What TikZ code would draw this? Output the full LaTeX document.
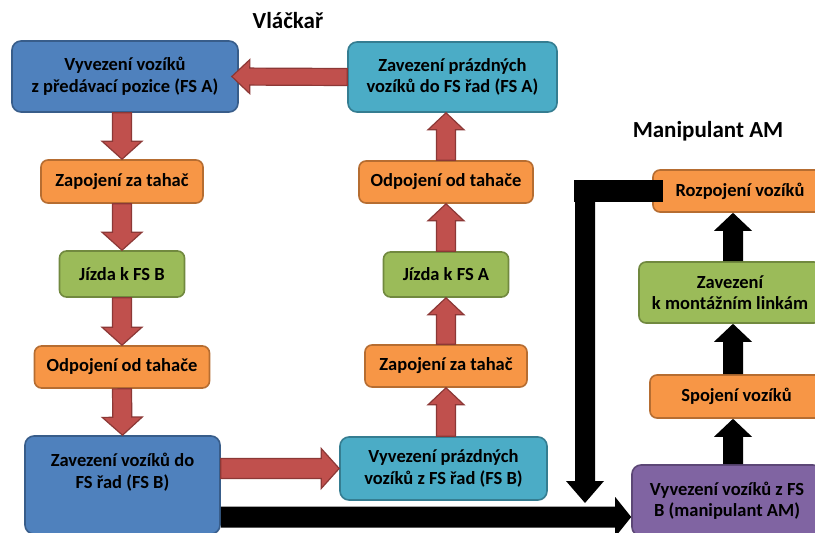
\documentclass[tikz,border=0pt]{standalone}
\usepackage{fontspec}
\setmainfont{Carlito}
\usetikzlibrary{calc}

% Office-style palette
\definecolor{boxblue}{HTML}{4F81BD}
\definecolor{boxblueline}{HTML}{385D8A}
\definecolor{boxteal}{HTML}{4BACC6}
\definecolor{boxtealline}{HTML}{357D91}
\definecolor{boxorange}{HTML}{F79646}
\definecolor{boxorangeline}{HTML}{B66D31}
\definecolor{boxgreen}{HTML}{9BBB59}
\definecolor{boxgreenline}{HTML}{71893F}
\definecolor{boxpurple}{HTML}{8064A2}
\definecolor{boxpurpleline}{HTML}{5C4776}
\definecolor{arrowred}{HTML}{C0504D}
\definecolor{arrowredline}{HTML}{8C3836}

% Block arrow between two points:
% #1 style, #2 start, #3 tip, #4 half shaft width, #5 half head width, #6 head length (all in pt)
\newcommand\blockarrow[6]{%
  \path (#2) coordinate (ba-s) (#3) coordinate (ba-e);
  \pgfpointdiff{\pgfpointanchor{ba-s}{center}}{\pgfpointanchor{ba-e}{center}}%
  \pgfgetlastxy{\badx}{\bady}%
  \pgfmathsetmacro\balen{veclen(\badx,\bady)}%
  \pgfmathsetmacro\baang{atan2(\bady,\badx)}%
  \pgfmathsetmacro\babase{\balen-#6}%
  \begin{scope}[shift={(ba-s)},rotate=\baang]
    \draw[#1] (0pt,-#4pt) -- (\babase pt,-#4pt) -- (\babase pt,-#5pt)
      -- (\balen pt,0pt) -- (\babase pt,#5pt) -- (\babase pt,#4pt)
      -- (0pt,#4pt) -- cycle;
  \end{scope}}

\begin{document}
\begin{tikzpicture}[x=1pt,y=-1pt,
  procbox/.style={rounded corners=9pt, line width=1.6pt, align=center,
    inner sep=0pt, text=black, font=\fontsize{18.5}{21.5}\selectfont\bfseries},
  bluebox/.style={procbox, fill=boxblue, draw=boxblueline},
  tealbox/.style={procbox, fill=boxteal, draw=boxtealline},
  orangebox/.style={procbox, fill=boxorange, draw=boxorangeline, rounded corners=7pt},
  greenbox/.style={procbox, fill=boxgreen, draw=boxgreenline, rounded corners=7pt},
  purplebox/.style={procbox, fill=boxpurple, draw=boxpurpleline},
  boxtext/.style={align=center, inner sep=0pt, text=black,
    font=\fontsize{18.5}{21.5}\selectfont\bfseries},
  title/.style={inner sep=0pt, text=black, font=\fontsize{23}{27}\selectfont\bfseries},
  redarrow/.style={fill=arrowred, draw=arrowredline, line width=1.2pt, line join=miter},
  blackarrow/.style={fill=black, draw=none},
  blackbar/.style={draw=black, line width=22pt, line cap=rect}]

\clip (0,0) rectangle (815,533);
\fill[white] (0,0) rectangle (815,533);

% titles
\node[title] (t1) at (288,21) {Vláčkař};
\node[title] (t2) at (708,131) {Manipulant AM};

% left column
\node[bluebox, minimum width=226pt, minimum height=71pt] (A) at (125,76.5)
  {Vyvezení vozíků\\z předávací pozice (FS A)};
\node[orangebox, minimum width=162pt, minimum height=43pt] (L1) at (122,181.5)
  {Zapojení za tahač};
\node[greenbox, minimum width=125pt, minimum height=46pt] (L2) at (122,274)
  {Jízda k FS B};
\node[orangebox, minimum width=175pt, minimum height=42pt] (L3) at (122,367)
  {Odpojení od tahače};
\node[bluebox, minimum width=195pt, minimum height=98pt] (L4) at (122.5,485) {};
\node[boxtext] (L4t) at (122.5,472) {Zavezení vozíků do\\FS řad (FS B)};

% middle column
\node[tealbox, minimum width=209pt, minimum height=70pt] (B) at (452.5,77)
  {Zavezení prázdných\\vozíků do FS řad (FS A)};
\node[orangebox, minimum width=174pt, minimum height=42pt] (M2) at (446,182)
  {Odpojení od tahače};
\node[greenbox, minimum width=125pt, minimum height=45pt] (M3) at (446,274.5)
  {Jízda k FS A};
\node[orangebox, minimum width=162pt, minimum height=42pt] (M4) at (446,366)
  {Zapojení za tahač};
\node[tealbox, minimum width=207pt, minimum height=63pt] (M5) at (443.5,468.5)
  {Vyvezení prázdných\\vozíků z FS řad (FS B)};

% right column
\node[orangebox, minimum width=174pt, minimum height=42pt] (R1) at (740,191)
  {Rozpojení vozíků};
\node[greenbox, minimum width=182pt, minimum height=61pt] (R2) at (730,292.5)
  {Zavezení\\k montážním linkám};
\node[orangebox, minimum width=173pt, minimum height=43pt] (R3) at (736.5,396.5)
  {Spojení vozíků};
\node[purplebox, minimum width=190pt, minimum height=71pt] (P) at (727,500.5)
  {Vyvezení vozíků z FS\\B (manipulant AM)};

% helper coordinates for the black connectors
\coordinate (axis) at (733,0);
\coordinate (bus) at (0,517);
\coordinate (drop) at (585,503);

% red flow of the tractor driver
\blockarrow{redarrow}{B.west}{[xshift=-7pt]A.east}{8.5}{17}{18}
\blockarrow{redarrow}{A.south -| L1.north}{L1.north}{9.5}{20}{18}
\blockarrow{redarrow}{L1.south}{L2.north}{9.5}{20}{18}
\blockarrow{redarrow}{L2.south}{L3.north}{9.5}{20}{18}
\blockarrow{redarrow}{L3.south}{L4.north}{9.5}{20}{18}
\blockarrow{redarrow}{L4.east |- M5.west}{M5.west}{10}{20}{18}
\blockarrow{redarrow}{M4.south |- M5.north}{M4.south}{9.5}{18}{17}
\blockarrow{redarrow}{M4.north}{M3.south}{9.5}{18}{17}
\blockarrow{redarrow}{M3.north}{M2.south}{9.5}{18}{17}
\blockarrow{redarrow}{M2.north}{M2.north |- B.south}{9.5}{18}{17}

% black flow of the AM operator
\blockarrow{blackarrow}{L4.east |- bus}{P.west |- bus}{10.5}{20}{16}
\blockarrow{blackarrow}{P.north -| axis}{R3.south -| axis}{10}{19}{18}
\blockarrow{blackarrow}{R3.north -| axis}{R2.south -| axis}{10}{19}{18}
\blockarrow{blackarrow}{R2.north -| axis}{R1.south -| axis}{10}{19}{18}
\draw[blackbar] (R1.west) -- (R1.west -| drop);
\blockarrow{blackarrow}{[yshift=11pt]R1.west -| drop}{drop}{10}{19}{22}
\end{tikzpicture}
\end{document}
